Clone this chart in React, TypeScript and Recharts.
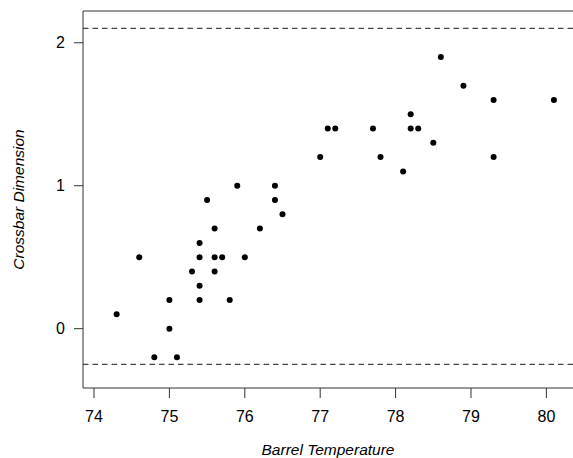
import React from "react";
import {
  ScatterChart, Scatter, XAxis, YAxis, ReferenceLine,
} from "recharts";

// barrel temperature vs crossbar dimension
const temps = [
  74.3, 74.6, 74.8, 75.0, 75.0, 75.1, 75.3, 75.4, 75.4, 75.4,
  75.4, 75.5, 75.6, 75.6, 75.6, 75.7, 75.8, 75.9, 76.0, 76.2,
  76.4, 76.4, 76.5, 77.0, 77.1, 77.2, 77.7, 77.8, 78.1, 78.2,
  78.2, 78.3, 78.5, 78.6, 78.9, 79.3, 79.3, 80.1,
];
const dims = [
  0.1, 0.5, -0.2, 0.2, 0.0, -0.2, 0.4, 0.6, 0.5, 0.3,
  0.2, 0.9, 0.7, 0.5, 0.4, 0.5, 0.2, 1.0, 0.5, 0.7,
  1.0, 0.9, 0.8, 1.2, 1.4, 1.4, 1.4, 1.2, 1.1, 1.5,
  1.4, 1.4, 1.3, 1.9, 1.7, 1.6, 1.2, 1.6,
];
const xTicks = [74, 75, 76, 77, 78, 79, 80];
const yTicks = [0, 1, 2];
const xDomain = [73.854, 80.353];
const yDomain = [-0.415, 2.222];
const upperLimit = 2.1;
const lowerLimit = -0.25;

const points = temps.map((t, i) => ({ temp: t, dim: dims[i] }));

const FONT = "'Liberation Sans', Arial, sans-serif";
const AXIS_COLOR = "#333";
const TICK_STYLE = { fontSize: 16, fontFamily: FONT, fill: "#000" };
const TITLE_STYLE = { fontSize: 15.5, fontFamily: FONT, fontStyle: "italic", fill: "#000" };

const Dot = (props: any) => (
  <circle cx={props.cx} cy={props.cy} r={3} fill="#000" />
);

export default function App() {
  return (
    <div style={{ position: "absolute", left: 0, top: 0, width: 573, height: 458, background: "#fff" }}>
      <ScatterChart
        width={573}
        height={458}
        margin={{ top: 11, right: 0, bottom: 0, left: 0 }}
      >
        <XAxis
          type="number"
          dataKey="temp"
          domain={xDomain}
          ticks={xTicks}
          interval={0}
          allowDataOverflow
          height={70}
          tickSize={10}
          tickMargin={13}
          tick={TICK_STYLE}
          tickLine={{ stroke: AXIS_COLOR }}
          axisLine={{ stroke: AXIS_COLOR }}
          label={{
            value: "Barrel Temperature",
            position: "insideBottom",
            offset: 3,
            style: TITLE_STYLE,
          }}
        />
        <YAxis
          type="number"
          dataKey="dim"
          domain={yDomain}
          ticks={yTicks}
          interval={0}
          allowDataOverflow
          width={83}
          tickSize={9}
          tickMargin={9}
          tick={TICK_STYLE}
          tickLine={{ stroke: AXIS_COLOR }}
          axisLine={{ stroke: AXIS_COLOR }}
          label={{
            value: "Crossbar Dimension",
            position: "insideLeft",
            angle: -90,
            offset: 18,
            style: { ...TITLE_STYLE, textAnchor: "middle" },
          }}
        />

        {/* top edge of the box */}
        <ReferenceLine y={yDomain[1]} stroke={AXIS_COLOR} strokeWidth={1} ifOverflow="visible" />

        {/* control limits */}
        <ReferenceLine y={upperLimit} stroke="#444" strokeWidth={1.2} strokeDasharray="5.5 4" />
        <ReferenceLine y={lowerLimit} stroke="#444" strokeWidth={1.2} strokeDasharray="5.5 4" />

        <Scatter data={points} shape={<Dot />} isAnimationActive={false} />
      </ScatterChart>
    </div>
  );
}
